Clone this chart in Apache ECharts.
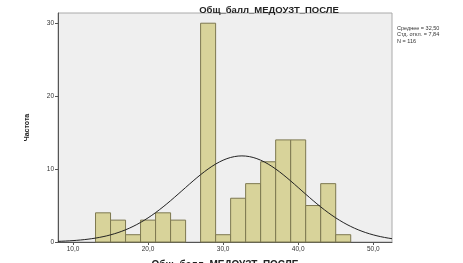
<!DOCTYPE html>
<html>
<head>
<meta charset="utf-8">
<script src="https://cdn.jsdelivr.net/npm/echarts@6/dist/echarts.min.js"></script>
<style>
html,body{margin:0;padding:0;background:#fff;}
#main{width:463px;height:263px;}
</style>
</head>
<body>
<div id="main"></div>
<script>
// bins (left edge), width 2
var binStarts = [13, 15, 17, 19, 21, 23, 25, 27, 29, 31, 33, 35, 37, 39, 41, 43, 45];
var counts    = [4, 3, 1, 3, 4, 3, 0, 30, 1, 6, 8, 11, 14, 14, 5, 8, 1];
var binWidth = 2;
var xTicks = [10, 20, 30, 40, 50];
var yTicks = [0, 10, 20, 30];
var mean = 32.50, sd = 7.84, n = 116;

var myChart = echarts.init(document.getElementById('main'));

// нормальная кривая по среднему и ст. откл.
var curve = [];
for (var x = 8; x <= 52.5; x += 0.25) {
    var z = (x - mean) / sd;
    curve.push([x, n * binWidth * Math.exp(-0.5 * z * z) / (sd * Math.sqrt(2 * Math.PI))]);
}

var bars = [];
for (var i = 0; i < binStarts.length; i++) {
    if (counts[i] > 0) bars.push([binStarts[i], binStarts[i] + binWidth, counts[i]]);
}

var option = {
    animation: false,
    textStyle: {fontFamily: 'Arial, Liberation Sans, sans-serif'},
    title: {
        text: 'Общ_балл_МЕДОУЗТ_ПОСЛЕ',
        left: 264, top: 0, textAlign: 'center',
        textStyle: {fontSize: 9.5, fontWeight: 'bold', color: '#222', lineHeight: 11}
    },
    grid: {
        left: 58, right: 71, top: 13, bottom: 21,
        outerBoundsMode: 'none', containLabel: false,
        show: true, backgroundColor: '#efefef', borderColor: '#aaa', borderWidth: 1
    },
    xAxis: {
        type: 'value', min: 8, max: 52.5,
        name: 'Общ_балл_МЕДОУЗТ_ПОСЛЕ', nameLocation: 'middle', nameGap: 18,
        nameTextStyle: {fontSize: 10, fontWeight: 'bold', color: '#222'},
        splitLine: {show: false},
        axisLine: {lineStyle: {color: '#555'}},
        axisTick: {customValues: xTicks, length: 3, lineStyle: {color: '#555'}},
        axisLabel: {
            customValues: xTicks, fontSize: 6.5, color: '#333', margin: 4,
            formatter: function (v) { return v.toFixed(1).replace('.', ','); }
        }
    },
    yAxis: {
        type: 'value', min: 0, max: 31.4,
        name: 'Частота', nameLocation: 'middle', nameGap: 27,
        nameTextStyle: {fontSize: 7, fontWeight: 'bold', color: '#222'},
        splitLine: {show: false},
        axisLine: {show: true, lineStyle: {color: '#555'}},
        axisTick: {customValues: yTicks, length: 3, lineStyle: {color: '#555'}},
        axisLabel: {customValues: yTicks, fontSize: 6.5, color: '#333', margin: 4}
    },
    graphic: [{
        type: 'text', left: 397, top: 25,
        style: {
            text: 'Среднее = 32,50\nСтд. откл. = 7,84\nN = 116',
            fontSize: 5.5, lineHeight: 6.5, fill: '#333'
        }
    }],
    series: [
        {
            type: 'custom',
            data: bars,
            renderItem: function (params, api) {
                var p0 = api.coord([api.value(0), api.value(2)]);
                var p1 = api.coord([api.value(1), 0]);
                return {
                    type: 'rect',
                    shape: {x: p0[0], y: p0[1], width: p1[0] - p0[0], height: p1[1] - p0[1]},
                    style: {fill: '#d8d39a', stroke: '#7d7850', lineWidth: 1}
                };
            },
            encode: {x: [0, 1], y: 2}
        },
        {
            type: 'line',
            data: curve,
            showSymbol: false,
            lineStyle: {color: '#222', width: 1},
            z: 3
        }
    ]
};
myChart.setOption(option);
window.onresize = myChart.resize;
</script>
</body>
</html>
